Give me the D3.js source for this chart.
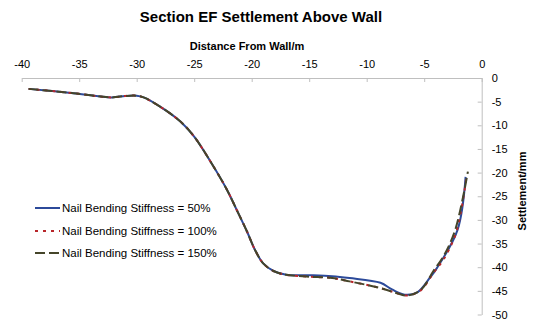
<!DOCTYPE html>
<html>
<head>
<meta charset="utf-8">
<script src="https://cdn.jsdelivr.net/npm/d3@7"></script>
<style>
  html, body { margin: 0; padding: 0; background: #fff; }
  svg { display: block; font-family: "Liberation Sans", Arial, sans-serif; }
</style>
</head>
<body>
<svg id="chart" width="533" height="322"></svg>
<script>
// Settlement profiles above the wall for three nail bending stiffness cases
const seriesNames = [
  "Nail Bending Stiffness = 50%",
  "Nail Bending Stiffness = 100%",
  "Nail Bending Stiffness = 150%"
];

// Shared profile from the far field down to the trough
const sharedX = [-39.4, -35.5, -32.2, -31.0, -30.0, -29.4, -28.0, -26.2, -25.0, -23.6, -22.2, -21.3, -20.4, -19.7, -19.0, -18.1, -17.0];
const sharedY = [-2.3, -3.2, -4.1, -3.8, -3.75, -4.1, -6.0, -9.2, -12.4, -17.6, -23.4, -27.9, -32.5, -36.4, -39.2, -40.8, -41.6];

// Near-wall part of each case
const stiff50X  = [-15.0, -13.0, -11.5, -8.8, -7.8, -6.7, -5.6, -4.5, -3.9, -2.1, -1.4];
const stiff50Y  = [-41.7, -41.9, -42.3, -43.3, -44.7, -45.8, -45.3, -42.2, -40.2, -32.1, -20.9];
const stiff100X = [-15.0, -13.0, -11.5, -8.8, -7.5, -6.5, -5.3, -4.2, -3.3, -2.2, -1.3];
const stiff100Y = [-42.0, -42.3, -43.0, -44.4, -45.4, -46.0, -44.9, -41.2, -38.3, -32.5, -20.5];
const stiff150X = [-15.0, -13.0, -11.5, -8.8, -7.5, -6.5, -5.3, -4.2, -3.3, -2.3, -1.2];
const stiff150Y = [-42.0, -42.3, -43.0, -44.4, -45.4, -46.0, -44.8, -40.8, -37.6, -32.1, -19.8];

const xTicks = [-40, -35, -30, -25, -20, -15, -10, -5, 0];
const yTicks = [0, -5, -10, -15, -20, -25, -30, -35, -40, -45, -50];

const colors = ["#2c4a9a", "#b8262a", "#45452a"];
const dashes = [null, "3,5", "10,4"];

const svg = d3.select("#chart");

const x = d3.scaleLinear().domain([-40, 0]).range([21.7, 481.7]);
const y = d3.scaleLinear().domain([0, -50]).range([78, 314.5]);

// Title
svg.append("text")
  .attr("x", 261).attr("y", 22)
  .attr("text-anchor", "middle")
  .attr("font-size", 15).attr("font-weight", "bold")
  .text("Section EF Settlement Above Wall");

// X axis along the top
const xAxis = svg.append("g")
  .attr("transform", `translate(0,${y(0)})`)
  .call(d3.axisTop(x).tickValues(xTicks).tickSizeInner(-4).tickSizeOuter(0).tickPadding(10)
    .tickFormat(d => String(d)));
xAxis.select(".domain").attr("stroke", "#bfbfbf");
xAxis.selectAll(".tick line").attr("stroke", "#bfbfbf");
xAxis.selectAll(".tick text").attr("font-size", 11).attr("fill", "#000")
  .attr("font-family", "Liberation Sans, Arial, sans-serif");

svg.append("text")
  .attr("x", 247).attr("y", 50)
  .attr("text-anchor", "middle")
  .attr("font-size", 11).attr("font-weight", "bold")
  .text("Distance From Wall/m");

// Y axis on the right
const yAxis = svg.append("g")
  .attr("transform", `translate(${x(0)},0)`)
  .call(d3.axisRight(y).tickValues(yTicks).tickSizeInner(-4).tickSizeOuter(0).tickPadding(10)
    .tickFormat(d => String(d)));
yAxis.select(".domain").attr("stroke", "#bfbfbf");
yAxis.selectAll(".tick line").attr("stroke", "#bfbfbf");
yAxis.selectAll(".tick text").attr("font-size", 11).attr("fill", "#000")
  .attr("font-family", "Liberation Sans, Arial, sans-serif");

svg.append("text")
  .attr("transform", "translate(526,191) rotate(-90)")
  .attr("text-anchor", "middle")
  .attr("font-size", 11).attr("font-weight", "bold")
  .text("Settlement/mm");

// Lines
const tails = [[stiff50X, stiff50Y], [stiff100X, stiff100Y], [stiff150X, stiff150Y]];
const series = tails.map(([tx, ty]) =>
  sharedX.concat(tx).map((v, i) => ({ x: v, y: sharedY.concat(ty)[i] })));

const line = d3.line()
  .x(d => x(d.x)).y(d => y(d.y))
  .curve(d3.curveCatmullRom.alpha(0.5));

series.forEach((s, i) => {
  svg.append("path")
    .datum(s)
    .attr("fill", "none")
    .attr("stroke", colors[i])
    .attr("stroke-width", 2)
    .attr("stroke-dasharray", dashes[i])
    .attr("d", line);
});

// Legend
const legendRows = [208, 231, 253];
seriesNames.forEach((name, i) => {
  const g = svg.append("g").attr("transform", `translate(0,${legendRows[i]})`);
  g.append("line")
    .attr("x1", 35).attr("x2", 60).attr("y1", 0).attr("y2", 0)
    .attr("stroke", colors[i]).attr("stroke-width", 2)
    .attr("stroke-dasharray", dashes[i]);
  g.append("text")
    .attr("x", 62).attr("y", 0).attr("dy", "0.35em")
    .attr("font-size", 11.5)
    .text(name);
});
</script>
</body>
</html>
